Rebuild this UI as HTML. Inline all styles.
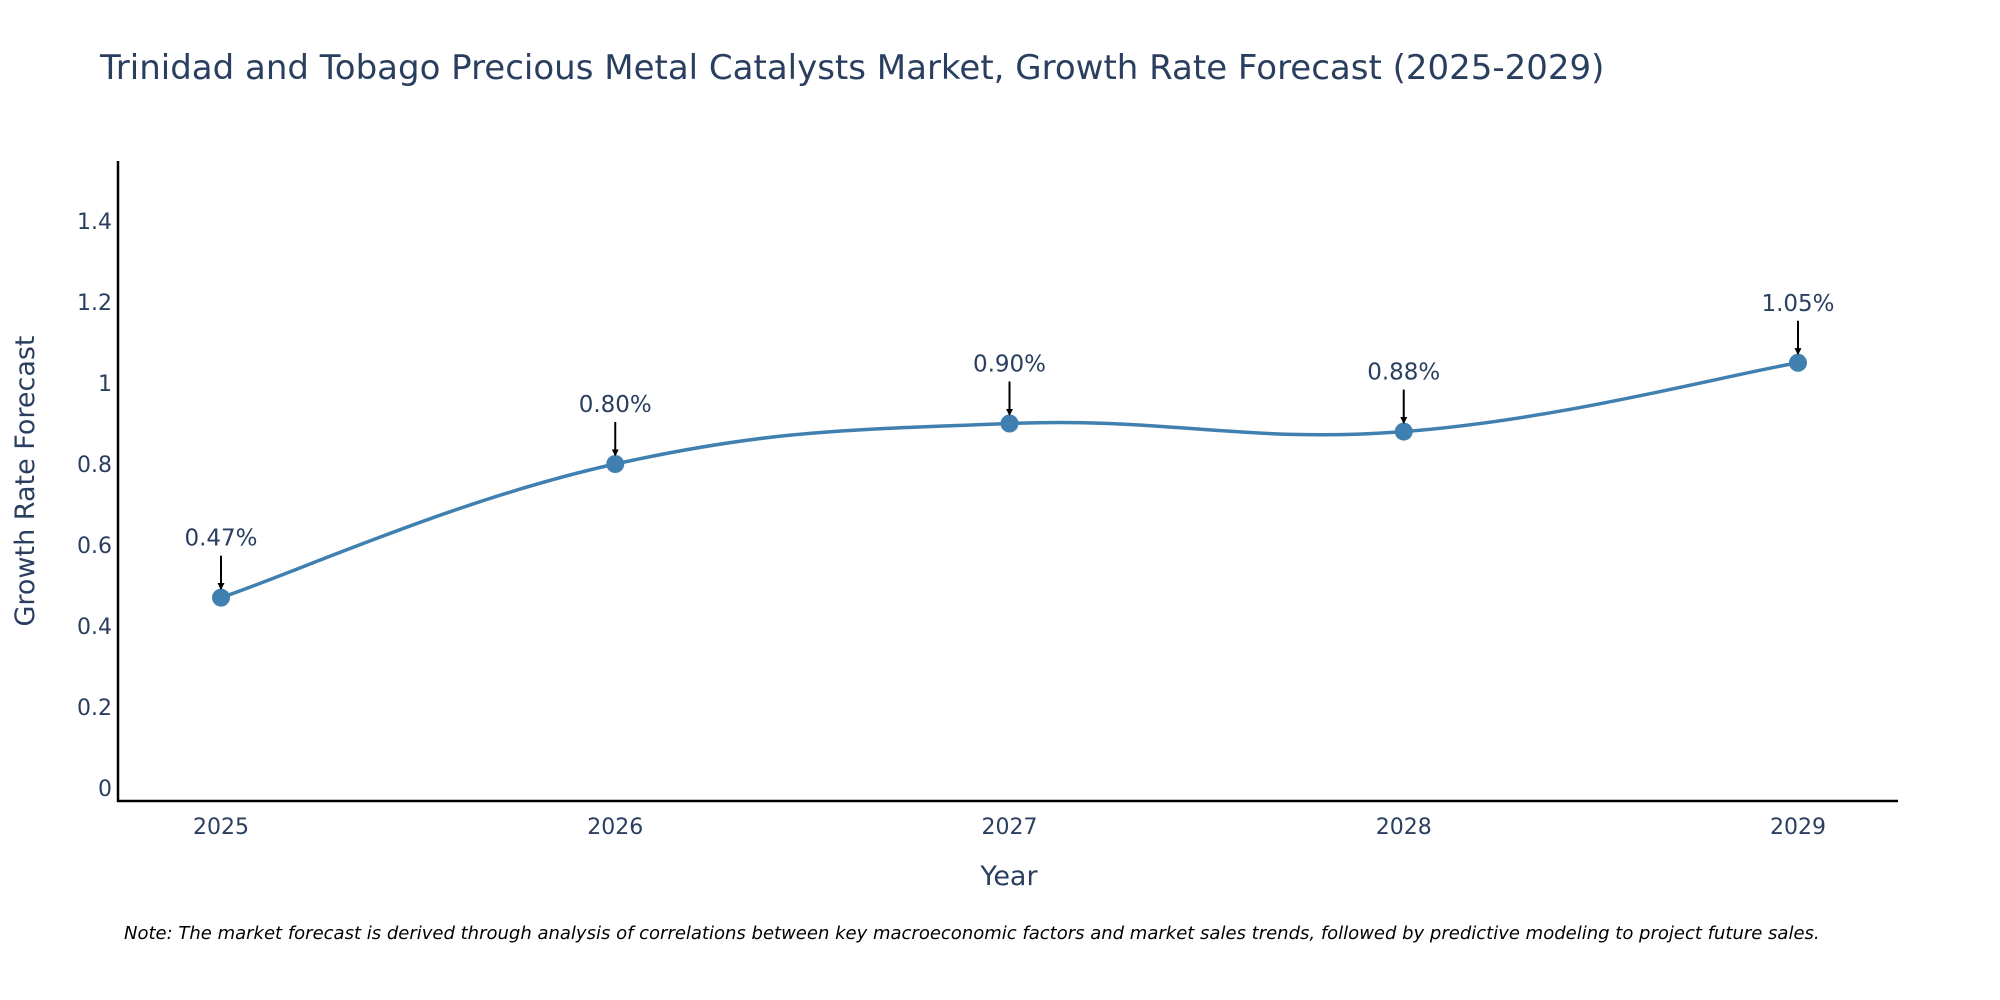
<!DOCTYPE html>
<html><head><meta charset="utf-8"><style>
body{margin:0;background:#fff;}
svg{display:block;font-family:"DejaVu Sans","Liberation Sans",sans-serif;}
</style></head><body>
<svg width="2000" height="1000" viewBox="0 0 2000 1000" xmlns="http://www.w3.org/2000/svg">
<text x="100" y="79" font-size="34" fill="#2a3f5f">Trinidad and Tobago Precious Metal Catalysts Market, Growth Rate Forecast (2025-2029)</text>
<g id="yticks"></g><g id="xticks"></g>
<line x1="118" y1="161" x2="118" y2="802" stroke="#000" stroke-width="2.5"/>
<line x1="117" y1="801" x2="1898" y2="801" stroke="#000" stroke-width="2.5"/>
<text transform="translate(34,481) rotate(-90)" text-anchor="middle" font-size="27" fill="#2a3f5f">Growth Rate Forecast</text>
<text x="1009" y="885" text-anchor="middle" font-size="27" fill="#2a3f5f">Year</text>
<g id="plot"></g>
<text x="124" y="939" font-size="18" font-style="italic" fill="#000">Note: The market forecast is derived through analysis of correlations between key macroeconomic factors and market sales trends, followed by predictive modeling to project future sales.</text>
<defs><marker id="ah" viewBox="0 0 10 10" refX="8" refY="5" markerWidth="7" markerHeight="7" markerUnits="userSpaceOnUse" orient="auto"><path d="M0,0 L10,5 L0,10 z" fill="#000"/></marker></defs>
</svg>
<script>
const years=[2025,2026,2027,2028,2029];
const values=[0.47,0.80,0.90,0.88,1.05];
const labels=["0.47%","0.80%","0.90%","0.88%","1.05%"];
const yTicks=[0,0.2,0.4,0.6,0.8,1,1.2,1.4];
const NS="http://www.w3.org/2000/svg";
const xs=y=>221+(y-2025)*394.25;
const ys=v=>788-v*405;
function mk(t,a,p){const e=document.createElementNS(NS,t);for(const k in a)e.setAttribute(k,a[k]);(p||document.getElementById('plot')).appendChild(e);return e;}
const yg=document.getElementById('yticks');
yTicks.forEach(t=>{const e=mk('text',{x:112,y:ys(t)+8,'text-anchor':'end','font-size':22,fill:'#2a3f5f'},yg);


e.textContent=String(t);});
const xg=document.getElementById('xticks');
years.forEach(y=>{const e=mk('text',{x:xs(y),y:834,'text-anchor':'middle','font-size':22,fill:'#2a3f5f'},xg);


e.textContent=String(y);});
const P=years.map((y,i)=>[xs(y),ys(values[i])]);
let d='M'+P[0][0]+','+P[0][1];
const s=0.2;
for(let i=0;i<P.length-1;i++){const p0=P[Math.max(0,i-1)],p1=P[i],p2=P[i+1],p3=P[Math.min(P.length-1,i+2)];
const c1=[p1[0]+(p2[0]-p0[0])*s,p1[1]+(p2[1]-p0[1])*s];
const c2=[p2[0]-(p3[0]-p1[0])*s,p2[1]-(p3[1]-p1[1])*s];
d+=' C'+c1+' '+c2+' '+p2;}
const ln=mk('path',{d:d,fill:'none',stroke:'#4080b0','stroke-width':3.5});


P.forEach((p,i)=>{
const c=mk('circle',{cx:p[0],cy:p[1],r:9,fill:'#4080b0'});


const a=mk('line',{x1:p[0],y1:p[1]-42,x2:p[0],y2:p[1]-9,stroke:'#000','stroke-width':2,'marker-end':'url(#ah)'});


const t=mk('text',{x:p[0],y:p[1]-52,'text-anchor':'middle','font-size':23,fill:'#2a3f5f'});


t.textContent=labels[i];});
</script>
</body></html>
